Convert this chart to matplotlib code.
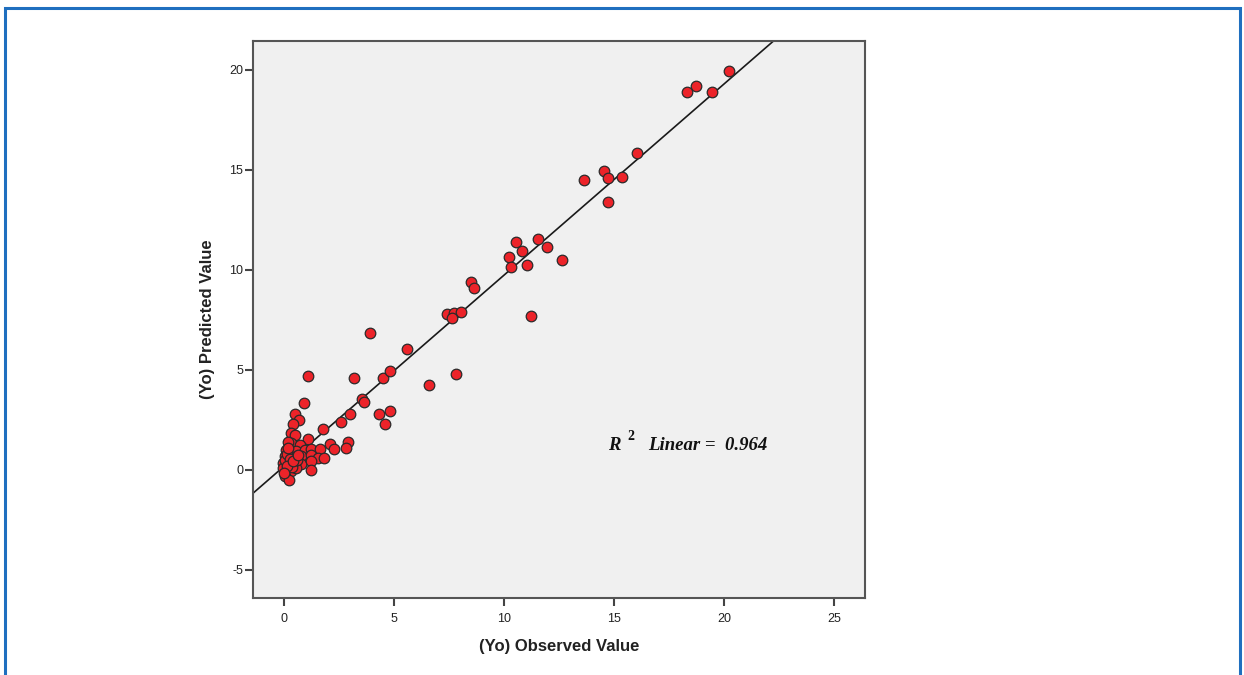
import numpy as np
import matplotlib
matplotlib.use("Agg")
import matplotlib.pyplot as plt
from matplotlib.patches import Rectangle

plt.rcParams['font.family'] = ['Liberation Sans', 'DejaVu Sans']
plt.rcParams['axes.unicode_minus'] = False

# Observed (x) and predicted (y) values
observed = [20.24, 18.73, 18.33, 19.44, 16.03, 14.53, 14.74, 15.35, 13.64, 14.73,
            10.53, 11.53, 10.83, 10.21, 11.94, 10.32, 11.03, 12.62, 11.21,
            8.50, 8.64, 7.41, 7.73, 8.03, 7.62,
            5.60, 7.82, 6.60,
            3.91, 1.10, 3.20, 4.51, 4.82,
            0.91, 3.53, 3.64, 0.50, 3.00, 4.30, 4.82,
            0.70, 0.40, 2.59, 1.79, 4.60,
            2.09, 2.90, 2.80, 2.27,
            0.30, 0.48, 1.09, 0.33, 0.71, 0.10, 0.56, 0.94, 1.21, 1.62,
            0.03, 0.41, 0.79, 1.24, 1.55, 1.82, -0.05, 0.18, 0.48, 0.79,
            1.21, 0.10, 0.33, 0.56, 1.21, 0.03, 0.21, -0.05, 0.18,
            0.05, 0.15, 0.25, 0.35, 0.60, 0.12, 0.02, 0.40, 0.20, 0.65]
predicted = [19.95, 19.20, 18.90, 18.90, 15.83, 14.95, 14.60, 14.67, 14.50, 13.38,
             11.40, 11.57, 10.97, 10.67, 11.14, 10.13, 10.24, 10.49, 7.72,
             9.38, 9.10, 7.82, 7.85, 7.88, 7.58,
             6.03, 4.82, 4.25,
             6.87, 4.68, 4.58, 4.62, 4.95,
             3.37, 3.53, 3.42, 2.80, 2.78, 2.78, 2.97,
             2.52, 2.30, 2.38, 2.07, 2.28,
             1.28, 1.40, 1.12, 1.05,
             1.85, 1.77, 1.55, 1.35, 1.27, 1.02, 0.93, 1.02, 1.05, 1.05,
             0.68, 0.63, 0.68, 0.77, 0.60, 0.60, 0.35, 0.30, 0.27, 0.30,
             0.43, -0.07, -0.07, 0.10, -0.02, -0.32, -0.48, 0.10, 1.42,
             0.50, 0.80, 0.55, 0.15, 0.50, 0.20, -0.15, 0.45, 1.10, 0.75]

x_ticks = [0, 5, 10, 15, 20, 25]
y_ticks = [-5, 0, 5, 10, 15, 20]
r2_text = "0.964"

x = np.array(observed)
y = np.array(predicted)
slope, intercept = np.polyfit(x, y, 1)

fig = plt.figure(figsize=(12.44, 6.75), dpi=100)
ax = fig.add_axes([253/1244, 1 - 598/675, (865-253)/1244, (598-41)/675])
ax.set_facecolor('#f0f0f0')

xlim = (-1.41, 26.4)
ylim = (-6.4, 21.45)
ax.set_xlim(*xlim)
ax.set_ylim(*ylim)

xl = np.array(xlim)
ax.plot(xl, intercept + slope * xl, color='#1a1a1a', lw=1.2, zorder=2)

ax.scatter(x, y, s=58, facecolor='#ec2329', edgecolor='#2a2a2a', linewidth=0.9, zorder=3)

for side in ['left', 'bottom', 'right', 'top']:
    ax.spines[side].set_color('#555555')
    ax.spines[side].set_linewidth(1.5)

ax.set_xticks(x_ticks)
ax.set_yticks(y_ticks)
ax.tick_params(axis='both', direction='out', length=6, width=1.5, color='#444444',
               labelsize=9, labelcolor='#222222')
ax.tick_params(axis='x', pad=5)
ax.tick_params(axis='y', pad=1)

ax.set_xlabel('(Yo) Observed Value', fontsize=12, fontweight='bold', color='#222222', labelpad=10)
ax.set_ylabel('(Yo) Predicted Value', fontsize=12, fontweight='bold', color='#222222', labelpad=10)

serif = ['Liberation Serif', 'DejaVu Serif']
ax.text(14.73, 1.0, 'R', fontsize=13.5, fontweight='bold', style='italic', family=serif,
        va='baseline', ha='left', color='#111111')
ax.text(15.6, 1.5, '2', fontsize=10, fontweight='bold', family=serif,
        va='baseline', ha='left', color='#111111')
ax.text(16.55, 1.0, 'Linear =  ' + r2_text, fontsize=13.5, fontweight='bold', style='italic',
        family=serif, va='baseline', ha='left', color='#111111')

# outer blue frame
fig.patches.append(Rectangle((5/1244, -0.1), (1240-5)/1244, 1.1 - 8/675,
                             transform=fig.transFigure, fill=False,
                             edgecolor='#1f6fbf', linewidth=2.2))

fig.savefig('out.png', dpi=100)
